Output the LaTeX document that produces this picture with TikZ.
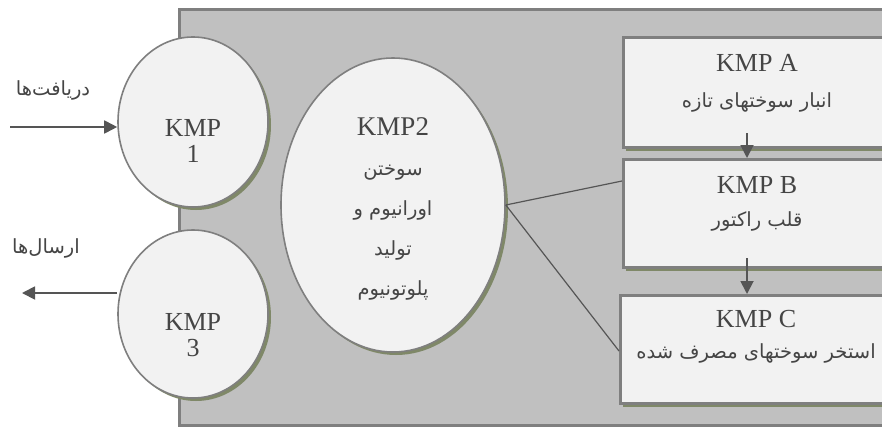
\documentclass[tikz,border=0pt]{standalone}
\usepackage{fontspec}
\setmainfont{Liberation Serif}
\newfontfamily\fa[Script=Arabic]{DejaVu Sans}
\TeXXeTstate=1
\usetikzlibrary{shapes.geometric,arrows.meta,shadows,calc}
\definecolor{panel}{HTML}{C0C0C0}
\definecolor{edge}{HTML}{7F7F7F}
\definecolor{shade}{HTML}{7F8868}
\definecolor{paper}{HTML}{F2F2F2}
\definecolor{ink}{HTML}{454545}
\definecolor{wire}{HTML}{555555}
\newcommand{\fatext}[1]{{\fa\fontsize{19.5}{40}\selectfont\beginR #1\endR}}
\begin{document}
\begin{tikzpicture}[x=1pt,y=-1pt,
  oval/.style={ellipse, draw=edge, line width=1.6pt, fill=paper, inner sep=0pt,
    drop shadow={shadow xshift=3pt,shadow yshift=-3pt,fill=shade,opacity=1}},
  panelbox/.style={rectangle, draw=edge, line width=2.6pt, fill=paper, anchor=north west,
    inner sep=0pt, minimum width=272pt,
    drop shadow={shadow xshift=3pt,shadow yshift=-4pt,fill=shade,opacity=1}},
  lat/.style={font=\fontsize{26}{26}\selectfont, text=ink, align=center, inner sep=0pt},
  fatxt/.style={text=ink, inner sep=0pt},
  flow/.style={draw=wire, line width=1.8pt, -{Triangle[length=13pt,width=13pt]}},
  wirel/.style={draw=wire, line width=1.2pt}]
\useasboundingbox (0,0) rectangle (882,428);
\fill[white] (0,0) rectangle (882,428);
% panel
\fill[shade] (181,12) rectangle (905,428);
\node[rectangle, draw=edge, line width=2.6pt, fill=panel, anchor=north west,
  minimum width=727pt, minimum height=416pt, inner sep=0pt] (pan) at (178,8) {};
% ovals
\node[oval, minimum width=150pt, minimum height=170pt] (k1) at (193,122) {};
\node[lat] (k1t) at (193,141) {KMP\\1};
\node[oval, minimum width=150pt, minimum height=168pt] (k3) at (193,314) {};
\node[lat] (k3t) at (193,335) {KMP\\3};
\node[oval, minimum width=224pt, minimum height=294pt] (k2) at (393,205) {};
\node[lat, font=\fontsize{27}{40}\selectfont] (k2t) at (393,209)
  {KMP2\\ \fatext{سوختن}\\ \fatext{اورانیوم و}\\ \fatext{تولید}\\ \fatext{پلوتونیوم}};
% boxes
\node[panelbox, minimum height=110pt] (ba) at (622,36) {};
\node[panelbox, minimum height=108pt] (bb) at (622,158) {};
\node[panelbox, minimum height=108pt] (bc) at (619,294) {};
\node[lat] (bat) at (757,63) {KMP A};
\node[fatxt] (baf) at (757,102) {\fatext{انبار سوختهای تازه}};
\node[lat] (bbt) at (757,185) {KMP B};
\node[fatxt] (bbf) at (757,221) {\fatext{قلب راکتور}};
\node[lat] (bct) at (756,319) {KMP C};
\node[fatxt] (bcf) at (756,353) {\fatext{استخر سوختهای مصرف شده}};
% arrows between boxes
\coordinate (abS) at (747,133);
\coordinate (bcS) at (747,258);
\draw[flow] (abS) -- (abS |- bb.north);
\draw[flow] (bcS) -- (bcS |- bc.north);
% connectors from KMP2
\draw[wirel] (k2.east) -- ($(bb.north west)+(0,23)$);
\draw[wirel] (k2.east) -- ($(bc.north west)+(0,57)$);
% in/out
\coordinate (inS) at (10,127);
\coordinate (outE) at (22,293);
\draw[flow] (inS) -- (inS -| k1.west);
\draw[flow] (outE -| k3.west) -- (outE);
\node[fatxt] (inl) at (53,90) {\fatext{دریافت‌ها}};
\node[fatxt] (outl) at (46,248) {\fatext{ارسال‌ها}};
\end{tikzpicture}
\end{document}
